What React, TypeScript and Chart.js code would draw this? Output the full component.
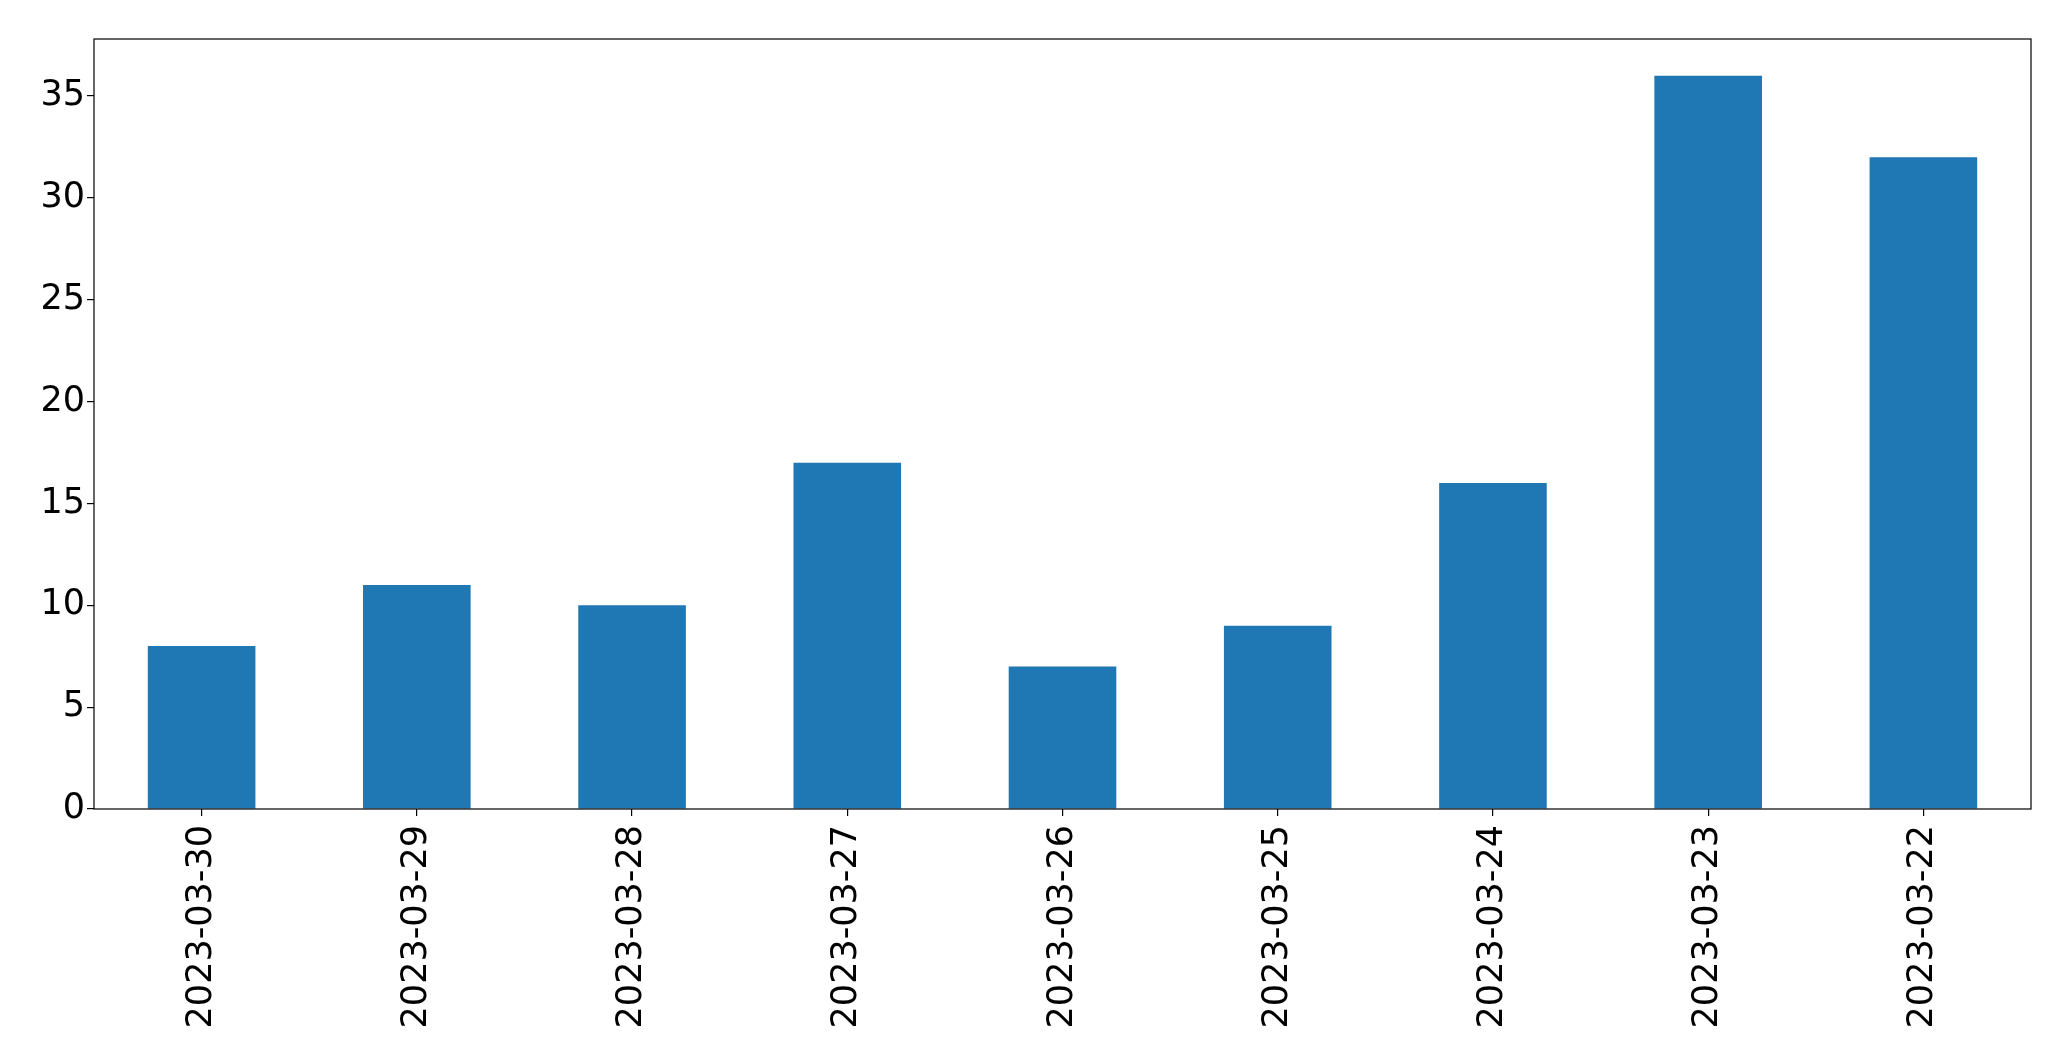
import React, { useEffect, useRef } from "react";
import { Chart, registerables } from "chart.js";

Chart.register(...registerables);

const categories = [
  "2023-03-30",
  "2023-03-29",
  "2023-03-28",
  "2023-03-27",
  "2023-03-26",
  "2023-03-25",
  "2023-03-24",
  "2023-03-23",
  "2023-03-22",
];
const values = [8, 11, 10, 17, 7, 9, 16, 36, 32];
const yMax = 37.8;
const yStep = 5;

const W = 2071;
const H = 1061;

const frame = {
  id: "frame",
  afterDatasetsDraw(chart: any) {
    const { ctx, chartArea } = chart;
    ctx.save();
    ctx.strokeStyle = "#000";
    ctx.lineWidth = 1.2;
    ctx.strokeRect(chartArea.left, chartArea.top, chartArea.right - chartArea.left, chartArea.bottom - chartArea.top);
    ctx.restore();
  },
};

export default function App() {
  const ref = useRef<HTMLCanvasElement>(null);
  useEffect(() => {
    document.body.style.margin = "0";
    const canvas = ref.current!;
    const chart = new Chart(canvas, {
      type: "bar",
      data: {
        labels: categories,
        datasets: [
          {
            data: values,
            backgroundColor: "#1f77b4",
            borderWidth: 0,
            barPercentage: 0.5,
            categoryPercentage: 1,
          },
        ],
      },
      options: {
        animation: false,
        responsive: false,
        maintainAspectRatio: false,
        layout: { padding: { left: 0, top: 39, right: 40, bottom: 0 } },
        plugins: { legend: { display: false }, tooltip: { enabled: false } },
        scales: {
          x: {
            offset: true,
            grid: {
              offset: false,
              drawOnChartArea: false,
              drawTicks: true,
              tickLength: 7,
              color: "#000",
              lineWidth: 1.2,
            },
            border: { display: false },
            ticks: {
              minRotation: 90,
              maxRotation: 90,
              autoSkip: false,
              padding: 9,
              color: "#000",
              font: { family: "DejaVu Sans", size: 35 },
            },
            afterFit: (s: any) => {
              s.height = H - 809;
            },
          },
          y: {
            min: 0,
            max: yMax,
            grid: {
              drawOnChartArea: false,
              drawTicks: true,
              tickLength: 7,
              color: "#000",
              lineWidth: 1.2,
            },
            border: { display: false },
            ticks: {
              stepSize: yStep,
              padding: 2,
              color: "#000",
              font: { family: "DejaVu Sans", size: 35 },
            },
            afterBuildTicks: (s: any) => {
              s.ticks = s.ticks.filter((t: any) => t.value % yStep === 0);
            },
            afterFit: (s: any) => {
              s.width = 94;
            },
          },
        },
      },
      plugins: [frame],
    });
    return () => chart.destroy();
  }, []);
  return (
    <div style={{ width: W, height: H, background: "#fff" }}>
      <canvas ref={ref} width={W} height={H} style={{ display: "block", width: W, height: H }} />
    </div>
  );
}
